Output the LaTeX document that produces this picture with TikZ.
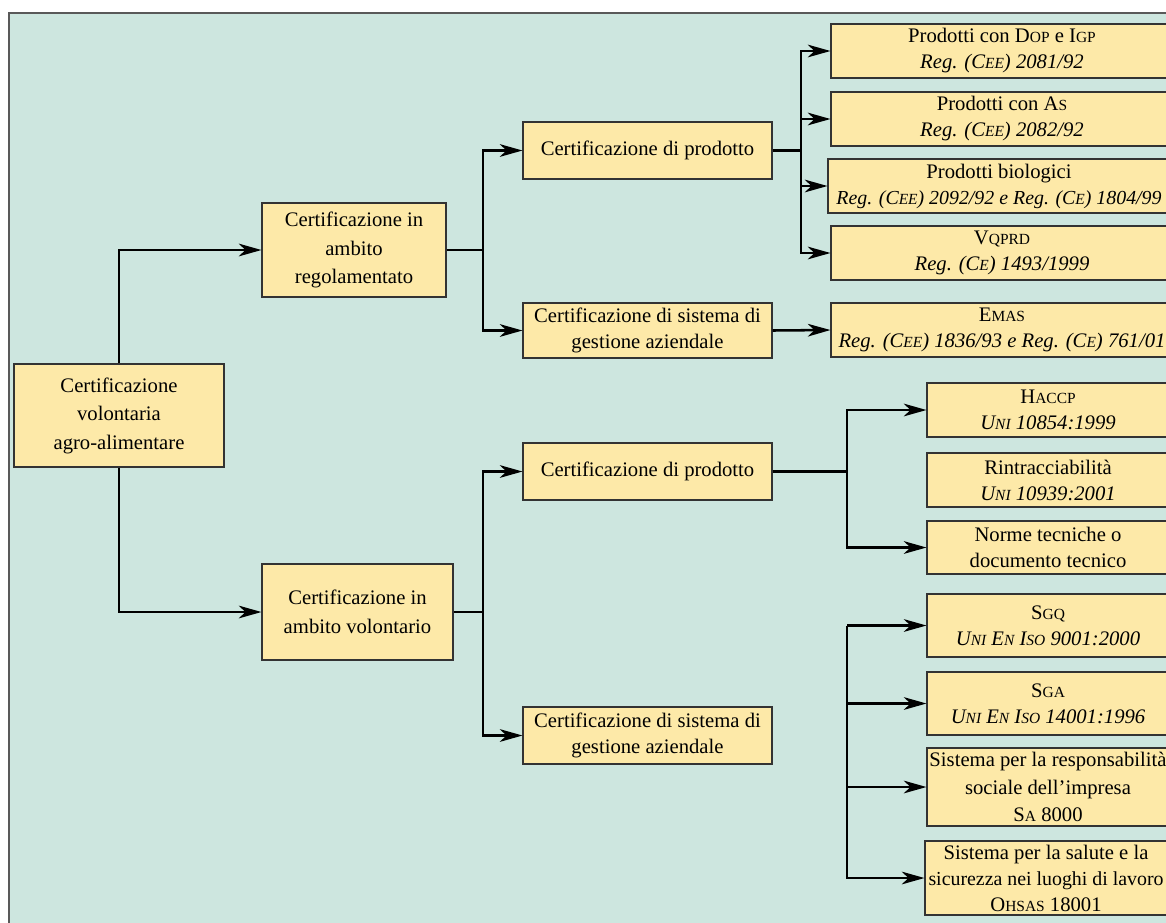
\documentclass[tikz,border=0pt]{standalone}
\usepackage{fontspec}
\setmainfont{Liberation Serif}
\usetikzlibrary{arrows.meta}
\definecolor{panelbg}{RGB}{205,230,223}
\definecolor{boxfill}{RGB}{253,233,168}
\newcommand\ssc[1]{{\fontsize{11.6}{12}\selectfont #1}}
\newcommand\tightline[1]{{\fontsize{14.9}{12}\selectfont #1}}
\tikzset{
  box/.style={draw=black!80, line width=0.8pt, fill=boxfill, align=center, inner sep=0pt,
    font=\fontsize{15.5}{21.4}\selectfont},
  rbox/.style={box, font=\fontsize{15.5}{19.5}\selectfont},
  sz/.style 2 args={minimum width=#1*0.75pt, minimum height=#2*0.75pt},
  conn/.style={line width=1.9pt},
  arr/.style={conn, -{Stealth[length=17pt,width=9.5pt,inset=5pt]}}
}
\begin{document}
\begin{tikzpicture}[x=0.75pt,y=-0.75pt]
\useasboundingbox (0,0) rectangle (1166,922);
\fill[white] (0,0) rectangle (1166,922);
\fill[panelbg] (9,13) rectangle (1172,926);
\draw[black!65, line width=1pt] (9,926) -- (9,13) -- (1172,13);

% left column
\node[box, sz={210}{103}] (root) at (119,415.5) {Certificazione\\volontaria\\agro-alimentare};
\node[box, sz={184}{94}] (reg) at (354,250) {Certificazione in\\ambito\\regolamentato};
\node[box, sz={191}{96}] (vol) at (357.5,612) {Certificazione in\\ambito volontario};

% middle column
\node[rbox, sz={249}{57}] (cp1) at (647.5,150.5) {Certificazione di prodotto};
\node[rbox, sz={249}{55}] (cs1) at (647.5,330.5) {Certificazione di sistema di\\gestione aziendale};
\node[rbox, sz={249}{57}] (cp2) at (647.5,471.5) {Certificazione di prodotto};
\node[rbox, sz={249}{57}] (cs2) at (647.5,735.5) {Certificazione di sistema di\\gestione aziendale};

% upper right column
\node[rbox, sz={342}{54}] (dop) at (1002,51) {Prodotti con D\ssc{OP} e I\ssc{GP}\\\textit{Reg. (C\ssc{EE}) 2081/92}};
\node[rbox, sz={342}{54}] (as) at (1002,119) {Prodotti con A\ssc{S}\\\textit{Reg. (C\ssc{EE}) 2082/92}};
\node[rbox, sz={342}{54}] (bio) at (999,186) {Prodotti biologici\\\tightline{\textit{Reg. (C\ssc{EE}) 2092/92 e Reg. (C\ssc{E}) 1804/99}}};
\node[rbox, sz={342}{54}] (vq) at (1002,253) {V\ssc{QPRD}\\\textit{Reg. (C\ssc{E}) 1493/1999}};
\node[rbox, sz={342}{54}] (emas) at (1002,330) {E\ssc{MAS}\\\textit{Reg. (C\ssc{EE}) 1836/93 e Reg. (C\ssc{E}) 761/01}};

% lower right column
\node[rbox, sz={242}{54}] (haccp) at (1048,410) {H\ssc{ACCP}\\\textit{U\ssc{NI} 10854:1999}};
\node[rbox, sz={242}{54}] (rin) at (1048,480) {Rintracciabilità\\\textit{U\ssc{NI} 10939:2001}};
\node[rbox, sz={242}{53}] (norme) at (1048,547.5) {Norme tecniche o\\documento tecnico};
\node[rbox, sz={242}{63}] (sgq) at (1048,625.5) {S\ssc{GQ}\\\textit{U\ssc{NI} E\ssc{N} I\ssc{SO} 9001:2000}};
\node[rbox, sz={242}{63}] (sga) at (1048,703.5) {S\ssc{GA}\\\textit{U\ssc{NI} E\ssc{N} I\ssc{SO} 14001:1996}};
\node[rbox, sz={242}{78}, font=\fontsize{15.5}{20.5}\selectfont] (sa) at (1048,787) {Sistema per la responsabilità\\sociale dell’impresa\\S\ssc{A} 8000};
\node[rbox, sz={242}{74}] (ohsas) at (1046,878) {Sistema per la salute e la\\\tightline{sicurezza nei luoghi di lavoro}\\O\ssc{HSAS} 18001};

% junctions
\coordinate (j1) at (483,250);
\coordinate (j2) at (801,150.5);
\coordinate (j3) at (483,612);
\coordinate (j4) at (847,471.5);
\coordinate (j5) at (847,625.5);

% connectors
\draw[arr] (root.north) |- (reg.west);
\draw[arr] (root.south) |- (vol.west);

\draw[conn] (reg.east) -- (j1);
\draw[arr] (j1) |- (cp1.west);
\draw[arr] (j1) |- (cs1.west);

\draw[conn] (cp1.east) -- (j2);
\draw[arr] (j2) |- (dop.west);
\draw[arr] (j2) |- (as.west);
\draw[arr] (j2) |- (bio.west);
\draw[arr] (j2) |- (vq.west);
\draw[arr] (cs1.east) -- (emas.west);

\draw[conn] (vol.east) -- (j3);
\draw[arr] (j3) |- (cp2.west);
\draw[arr] (j3) |- (cs2.west);

\draw[conn] (cp2.east) -- (j4);
\draw[arr] (j4) |- (haccp.west);
\draw[arr] (j4) |- (norme.west);

\draw[arr] (j5) -- (sgq.west);
\draw[arr] (j5) |- (sga.west);
\draw[arr] (j5) |- (sa.west);
\draw[arr] (j5) |- (ohsas.west);
\end{tikzpicture}
\end{document}
